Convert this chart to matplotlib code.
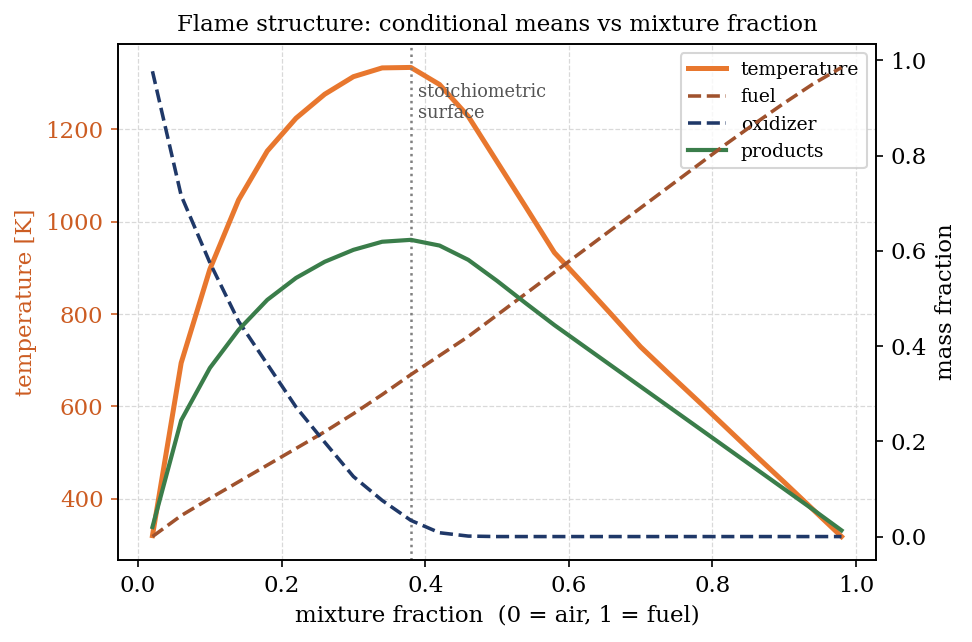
import numpy as np
import matplotlib
matplotlib.use('Agg')
import matplotlib.pyplot as plt

plt.rcParams.update({'font.size': 11, 'font.family': 'DejaVu Serif'})

# mixture fraction bins
z = [0.02, 0.06, 0.10, 0.14, 0.18, 0.22, 0.26, 0.30, 0.34, 0.38, 0.42, 0.46, 0.50,
     0.54, 0.58, 0.62, 0.66, 0.70, 0.74, 0.78, 0.82, 0.86, 0.90, 0.94, 0.98]

temperature = [320, 694, 897, 1047, 1153, 1224, 1276, 1314, 1333, 1334, 1297, 1228, 1130,
               1032, 933, 866, 798, 729, 670, 612, 553, 494, 436, 377, 318]

fuel = [0.0, 0.044, 0.08, 0.115, 0.15, 0.185, 0.22, 0.258, 0.298, 0.34, 0.38, 0.42, 0.465,
        0.51, 0.555, 0.60, 0.645, 0.69, 0.735, 0.78, 0.825, 0.868, 0.91, 0.95, 0.985]

oxidizer = [0.977, 0.716, 0.575, 0.452, 0.362, 0.272, 0.198, 0.126, 0.076, 0.034, 0.008, 0.001, 0.0,
            0.0, 0.0, 0.0, 0.0, 0.0, 0.0, 0.0, 0.0, 0.0, 0.0, 0.0, 0.0]

products = [0.02, 0.244, 0.354, 0.434, 0.497, 0.543, 0.577, 0.602, 0.619, 0.623, 0.611, 0.581, 0.537,
            0.49, 0.444, 0.401, 0.358, 0.315, 0.272, 0.229, 0.186, 0.143, 0.1, 0.057, 0.013]

z_st = 0.38

fig = plt.figure(figsize=(6.48, 4.28), dpi=150)
ax = fig.gca()
ax2 = ax.twinx()

l1, = ax.plot(z, temperature, color='#e8772e', lw=2.4, label='temperature')
l2, = ax2.plot(z, fuel, color='#a0522d', lw=1.7, ls='--', label='fuel')
l3, = ax2.plot(z, oxidizer, color='#1f3868', lw=1.7, ls='--', label='oxidizer')
l4, = ax2.plot(z, products, color='#3a7d4a', lw=2.0, label='products')

ax.axvline(z_st, color='gray', ls=':', lw=1.2)
ax.text(z_st + 0.01, 1300, 'stoichiometric\nsurface', color='#555555', fontsize=8.5, va='top')

ax.grid(True, ls='--', lw=0.6, color='#d9d9d9')
ax.set_xlabel('mixture fraction  (0 = air, 1 = fuel)')
ax.set_ylabel('temperature [K]', color='#cc5c22')
ax.tick_params(axis='y', colors='#cc5c22')
ax.tick_params(axis='x', colors='black')
ax2.set_ylabel('mass fraction')
ax.set_title('Flame structure: conditional means vs mixture fraction', fontsize=11)

ax.legend(handles=[l1, l2, l3, l4], loc='upper right', fontsize=9)

fig.subplots_adjust(left=0.1214, right=0.9012, top=0.9315, bottom=0.1277)
fig.savefig('out.png')
